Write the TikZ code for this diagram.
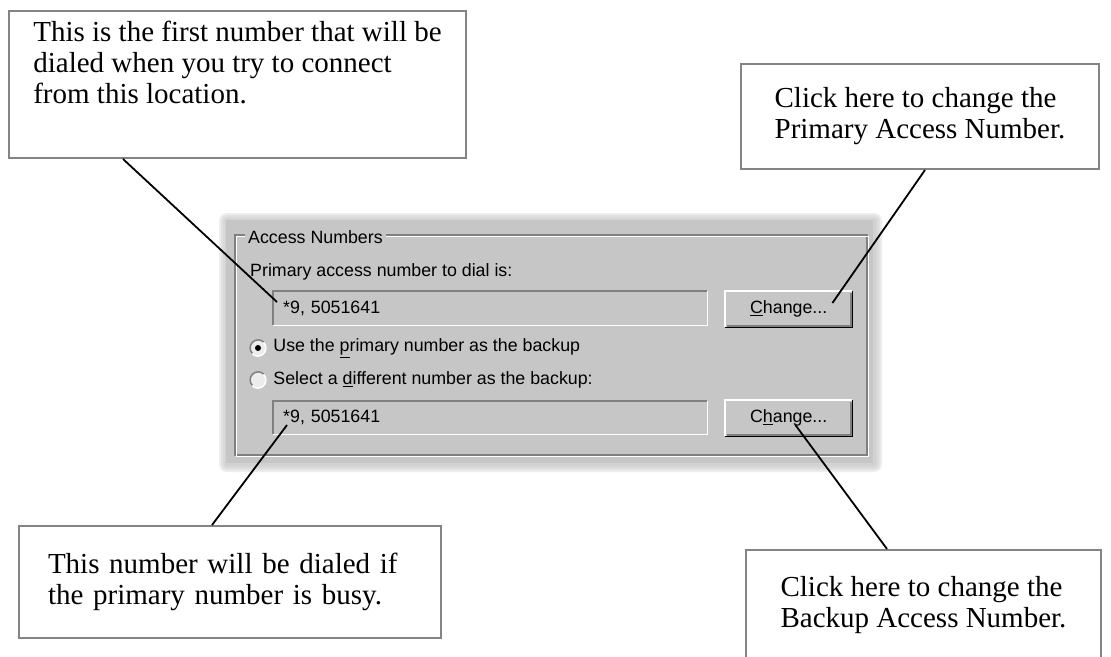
\documentclass[tikz,border=0pt]{standalone}
\usepackage{fontspec}
\setmainfont{Liberation Serif}
\newfontfamily\winfont{Liberation Sans}
\usepackage{tikz}
\usetikzlibrary{positioning, calc}
\definecolor{cPanel}{RGB}{198,198,198}
\definecolor{cEdge}{RGB}{128,128,128}
\definecolor{cBorder}{RGB}{132,132,132}
\definecolor{cRadio}{RGB}{236,236,236}
\tikzset{
	callout/.style={rectangle, draw=cBorder, line width=2pt, fill=white, align=left, anchor=north west, font=\fontsize{29}{31}\selectfont},
	pointer/.style={line width=1.8pt, black},
	winfnt/.style ={font=\winfont\fontsize{17.8}{20}\selectfont},
}

\begin{document}
\begin{tikzpicture}[x=1pt, y=-1pt,
					wintext/.style={winfnt, inner sep=0pt, anchor=west},
					field/.style={rectangle, winfnt, fill=cPanel, anchor=north west, text width=414pt, inner xsep=10pt, inner ysep=0pt, minimum height=34pt, align=left},
					winbtn/.style={rectangle, winfnt, fill=cPanel, anchor=north west, minimum width=127pt, minimum height=36pt, inner sep=0pt},
					radio/.style={circle, fill=cRadio, minimum size=16pt, inner sep=0pt}]
	\useasboundingbox (0,0) rectangle (1111,656);
	\fill[white] (0,0) rectangle (1111,656);
	% dialog panel with soft edge
	\foreach \d in {8,6,4,2}
		\fill[cPanel, opacity=0.3, rounded corners=\d pt] (226-\d+1,220-\d+1) rectangle (873+\d+1,463+\d+1);
	\node[rectangle, fill=cPanel, anchor=north west, minimum width=647pt, minimum height=243pt, inner sep=0pt] (dialog) at (226,220) {};
	\draw[cEdge, line width=1.3pt] (235,235) rectangle (867,455);
	\draw[white, line width=1.3pt] (236.5,236.5) rectangle (868.5,456.5);
	\node[wintext, fill=cPanel, inner xsep=3pt] (groupLabel) at (245,237) {Access Numbers};
	\node[wintext] (primaryLabel) at (250,272) {Primary access number to dial is:};
	\node[field] (primaryField) at (273,291) {*9, 5051641};
	\node[field, minimum height=33pt] (backupField) at (273,401) {*9, 5051641};
	\node[winbtn] (changeA) at (725,291) {\underline{C}hange...};
	\node[winbtn] (changeB) at (725,400) {C\underline{h}ange...};
	\node[radio] (radioA) at (258,348) {};
	\node[radio] (radioB) at (258,380) {};
	\node[wintext, right=7pt of radioA] (useLabel) {Use the \underline{p}rimary number as the backup};
	\node[wintext, right=7pt of radioB] (selectLabel) {Select a \underline{d}ifferent number as the backup:};
	\foreach \f in {primaryField, backupField} {
		\draw[cEdge, line width=1.5pt] (\f.south west) |- (\f.north east);
		\draw[white, line width=1.5pt] (\f.south west) -| (\f.north east);
	}
	\foreach \b in {changeA, changeB} {
		\draw[white, line width=1.5pt] (\b.south west) |- (\b.north east);
		\draw[black, line width=1.5pt] (\b.south west) -| (\b.north east);
		\draw[cEdge, line width=1.2pt] ([shift={(1.5,-1.5)}]\b.south west) -| ([shift={(-1.5,1.5)}]\b.north east);
	}
	\foreach \r in {radioA, radioB} {
		\draw[cEdge, line width=1.5pt] (\r.45) arc[start angle=45, end angle=225, radius=8pt];
		\draw[white, line width=1.5pt] (\r.225) arc[start angle=225, end angle=405, radius=8pt];
	}
	\fill[black] (radioA) circle[radius=3pt];
	% callouts
	\node[callout, minimum width=457pt, minimum height=147pt, inner ysep=10pt] (tipA) at (8,10) {This is the first number that will be\\dialed when you try to connect\\from this location.\rule[-44pt]{0pt}{44pt}};
	\node[callout, minimum width=358pt, minimum height=105pt] (tipB) at (740,63) {Click here to change the\\Primary Access Number.};
	\node[callout, text width=364pt, inner xsep=29pt, minimum height=112pt] (tipC) at (18,525) {This number will be dialed if\\the primary number is busy.};
	\node[callout, minimum width=355pt, minimum height=110pt] (tipD) at (745,549) {Click here to change the\\Backup Access Number.};
	\draw[pointer] ([xshift=115pt]tipA.south west) -- ([shift={(4,11)}]primaryField.north west);
	\draw[pointer] ([xshift=185pt]tipB.south west) -- ([shift={(-20,12)}]changeA.north east);
	\draw[pointer] ([xshift=194pt]tipC.north west) -- ([shift={(14,24)}]backupField.north west);
	\draw[pointer] ([xshift=142pt]tipD.north west) -- ([shift={(-57,25)}]changeB.north east);
\end{tikzpicture}
\end{document}
